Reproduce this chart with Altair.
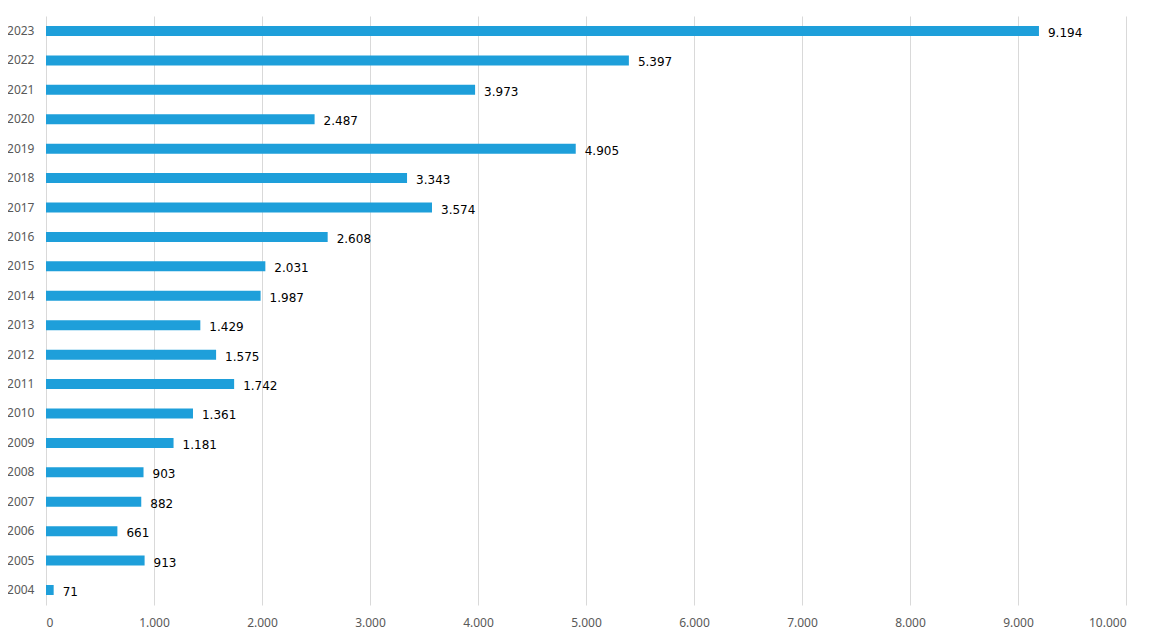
import altair as alt
import pandas as pd

years = ["2004", "2005", "2006", "2007", "2008", "2009", "2010", "2011", "2012", "2013",
         "2014", "2015", "2016", "2017", "2018", "2019", "2020", "2021", "2022", "2023"]
values = [71, 913, 661, 882, 903, 1181, 1361, 1742, 1575, 1429,
          1987, 2031, 2608, 3574, 3343, 4905, 2487, 3973, 5397, 9194]

df = pd.DataFrame({"year": years, "value": values})

y_enc = alt.Y("year:N", sort="descending", title=None,
              scale=alt.Scale(paddingInner=0.66, paddingOuter=0.34),
              axis=alt.Axis(domain=False, ticks=False, labelFont="Noto Sans", labelFontSize=12,
                            labelColor="#595959", labelPadding=12, grid=False))
x_enc = alt.X("value:Q", title=None,
              scale=alt.Scale(domain=[0, 10000], nice=False),
              axis=alt.Axis(values=list(range(0, 10001, 1000)), domain=False, ticks=False,
                            labelFont="Noto Sans", labelFontSize=12, labelColor="#595959",
                            labelPadding=12, gridColor="#d9d9d9", gridWidth=1,
                            labelExpr="replace(format(datum.value, ','), ',', '.')"))

bars = alt.Chart(df).mark_bar(color="#1e9fda").encode(x=x_enc, y=y_enc)

labels = alt.Chart(df).transform_calculate(
    lbl="replace(format(datum.value, ','), ',', '.')"
).mark_text(align="left", baseline="middle", dx=9, dy=2, font="DejaVu Sans",
            fontSize=12, color="#000000").encode(
    x=alt.X("value:Q"), y=alt.Y("year:N", sort="descending"), text="lbl:N")

chart = (bars + labels).properties(
    width=1080, height=589,
    autosize=alt.AutoSizeParams(type="none"),
    padding={"left": 38, "top": 8, "right": 15, "bottom": 30},
).configure_view(stroke=None).configure_axis(labelOverlap=False)

chart.save("out.html", embed_options={"renderer": "svg", "actions": False})
